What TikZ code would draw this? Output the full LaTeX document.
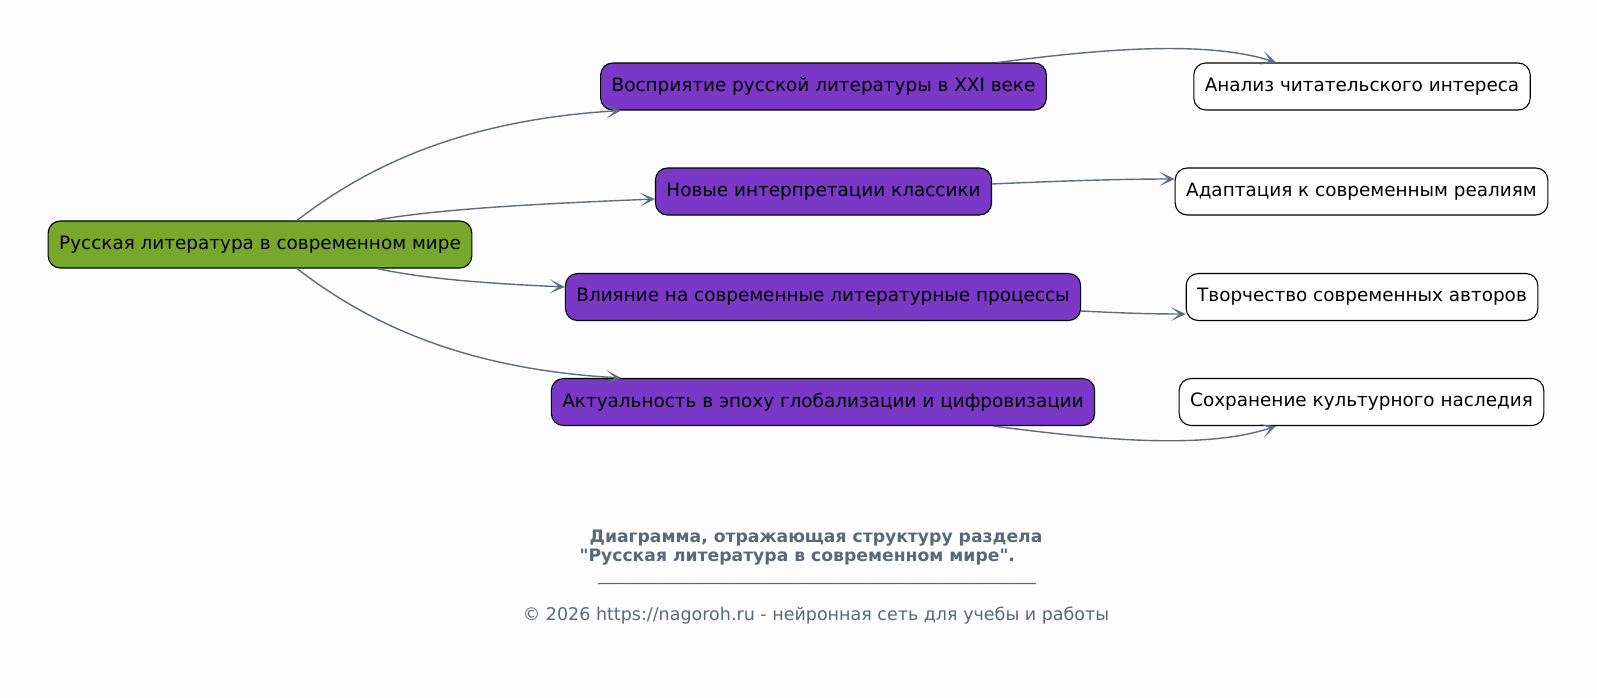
\documentclass[tikz,border=0pt]{standalone}
\usepackage{fontspec}
\setmainfont{DejaVu Sans}[Ligatures=TeXOff]
\usetikzlibrary{arrows.meta}
\definecolor{bg}{RGB}{253,253,253}
\definecolor{rootc}{RGB}{119,168,43}
\definecolor{midc}{RGB}{122,56,198}
\definecolor{edgec}{RGB}{94,109,126}
\definecolor{capc}{RGB}{90,104,120}
\tikzset{
  box/.style={draw=black, line width=1.1pt, rounded corners=12pt, minimum height=47pt,
    inner xsep=11pt, font=\fontsize{18.4}{22}\selectfont, text=black},
  rootbox/.style={box, fill=rootc},
  midbox/.style={box, fill=midc},
  leafbox/.style={box, fill=white},
  conn/.style={draw=edgec, line width=1.4pt, -{Stealth[length=15pt, width=14pt, inset=9pt]}},
  captext/.style={text=capc, font=\fontsize{17.2}{20}\selectfont\bfseries},
  copytext/.style={text=capc, font=\fontsize{17.5}{20}\selectfont},
}
\begin{document}
\begin{tikzpicture}[x=1pt,y=-1pt]
\fill[bg] (0,0) rectangle (1597,698);
\useasboundingbox (0,0) rectangle (1597,698);

\node[rootbox] (root) at (260,244.5) {Русская литература в современном мире};
\node[midbox] (p1) at (823.5,86.5) {Восприятие русской литературы в XXI веке};
\node[midbox] (p2) at (823.5,191.5) {Новые интерпретации классики};
\node[midbox] (p3) at (823,297) {Влияние на современные литературные процессы};
\node[midbox] (p4) at (823,402) {Актуальность в эпоху глобализации и цифровизации};
\node[leafbox] (w1) at (1362,86.5) {Анализ читательского интереса};
\node[leafbox] (w2) at (1361.5,191.5) {Адаптация к современным реалиям};
\node[leafbox] (w3) at (1362,297) {Творчество современных авторов};
\node[leafbox] (w4) at (1361.5,402) {Сохранение культурного наследия};

\coordinate (r1) at (297,221);
\coordinate (r2) at (375,220);
\coordinate (r3) at (377,268);
\coordinate (r4) at (297,268);
\coordinate (e1) at (621,109);
\coordinate (e2) at (655,199);
\coordinate (e3) at (564,287);
\coordinate (e4) at (621,379);
\coordinate (s1) at (998,63);
\coordinate (f1) at (1276,63);
\coordinate (s2) at (992,184);
\coordinate (f2) at (1174,179);
\coordinate (s3) at (1082,311);
\coordinate (f3) at (1186,314);
\coordinate (s4) at (993,426);
\coordinate (f4) at (1276,426);

\draw[conn] (root.north -| r1) .. controls (365,168) and (460,120) .. (p1.south -| e1);
\draw[conn] (root.north -| r2) .. controls (440,208) and (560,203) .. (p2.west |- e2);
\draw[conn] (root.south -| r3) .. controls (430,280) and (500,284) .. (p3.west |- e3);
\draw[conn] (root.south -| r4) .. controls (365,321) and (460,369) .. (p4.north -| e4);

\draw[conn] (p1.north -| s1) .. controls (1080,52) and (1200,38) .. (w1.north -| f1);
\draw[conn] (p2.east |- s2) .. controls (1060,181) and (1120,179) .. (w2.west |- f2);
\draw[conn] (p3.east |- s3) .. controls (1120,313) and (1150,314) .. (w3.west |- f3);
\draw[conn] (p4.south -| s4) .. controls (1080,437) and (1200,452) .. (w4.south -| f4);

\node[captext] (t1) at (816,538) {Диаграмма, отражающая структуру раздела};
\node[captext, anchor=west] (t2) at (576,557) {"Русская литература в современном мире".};
\node[copytext] (ul) at (817,582.5) {\_\_\_\_\_\_\_\_\_\_\_\_\_\_\_\_\_\_\_\_\_\_\_\_\_\_\_\_\_\_\_\_\_\_\_\_\_\_\_\_\_\_\_\_\_\_\_\_\_\_};
\node[copytext] (cr) at (816,616) {© 2026 https://nagoroh.ru - нейронная сеть для учебы и работы};
\end{tikzpicture}
\end{document}
